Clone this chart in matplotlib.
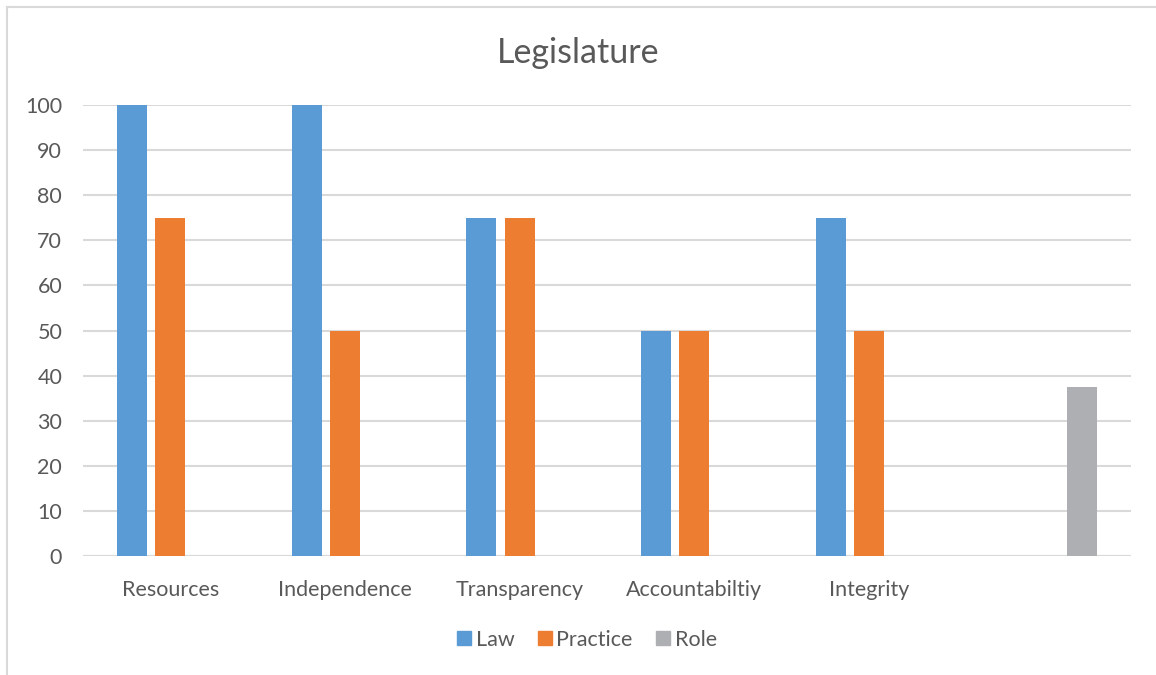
import numpy as np
import matplotlib
matplotlib.use('Agg')
import matplotlib.pyplot as plt
from matplotlib.lines import Line2D

plt.rcParams['font.family'] = ['Lato', 'DejaVu Sans']

categories = ['Resources', 'Independence', 'Transparency', 'Accountabiltiy', 'Integrity', '']
law = [100, 100, 75, 50, 75, np.nan]
practice = [75, 50, 75, 50, 50, np.nan]
role = [np.nan, np.nan, np.nan, np.nan, np.nan, 37.5]
series_names = ['Law', 'Practice', 'Role']
colors = ['#5B9BD5', '#ED7D31', '#AEAFB3']

fig = plt.figure(figsize=(11.56, 6.75), dpi=100)
ax = fig.add_axes([0.0718, 0.1763, 0.9064, 0.6681])

x = np.arange(len(categories))
w = 0.172
off = 0.219
for vals, dx, c in zip([law, practice, role], [-off, 0, off], colors):
    ax.bar(x + dx, vals, width=w, color=c, zorder=3)

ax.set_xlim(-0.5, len(categories) - 0.5)
ax.set_ylim(0, 100)
ax.set_yticks(range(0, 101, 10))
ax.set_xticks(x)
ax.set_xticklabels(categories)
ax.grid(axis='y', color='#d9d9d9', linewidth=1.5, zorder=0)
ax.tick_params(axis='both', length=0, labelsize=15.5, colors='#595959')
ax.tick_params(axis='x', pad=17)
ax.tick_params(axis='y', pad=15)
for s in ax.spines.values():
    s.set_visible(False)
ax.axhline(0, color='#d9d9d9', linewidth=1.5, zorder=2)

fig.text(0.5, 0.922, 'Legislature', ha='center', va='center', fontsize=24.5, color='#595959')

handles = [Line2D([], [], marker='s', linestyle='none', markersize=10, color=c) for c in colors]
fig.legend(handles, series_names, loc='center', bbox_to_anchor=(0.506, 0.052), ncol=3,
           frameon=False, fontsize=15.5, labelcolor='#595959', handletextpad=0.05,
           columnspacing=0.9, handlelength=1.0)

# chart border (top and left visible)
fig.add_artist(Line2D([0.0061, 1.0], [0.9896, 0.9896], color='#d9d9d9', linewidth=1.5))
fig.add_artist(Line2D([0.0061, 0.0061], [0.0, 0.9896], color='#d9d9d9', linewidth=1.5))

fig.savefig('out.png', dpi=100)
